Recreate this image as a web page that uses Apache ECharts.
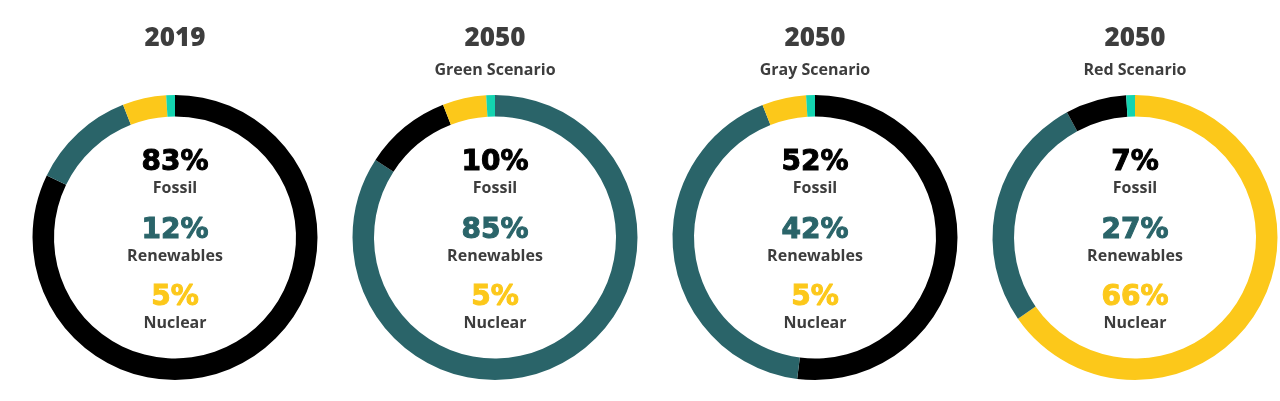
<!DOCTYPE html>
<html>
<head>
<meta charset="utf-8">
<script src="https://cdn.jsdelivr.net/npm/echarts@6/dist/echarts.min.js"></script>
<style>
html,body{margin:0;padding:0;background:#fff;}
#c{width:1280px;height:401px;}
</style>
</head>
<body>
<div id="c"></div>
<script>
const years = ['2019', '2050', '2050', '2050'];
const scenarios = ['', 'Green Scenario', 'Gray Scenario', 'Red Scenario'];
const categories = ['Fossil', 'Renewables', 'Nuclear'];
const fossil = [83, 10, 52, 7];
const renewables = [12, 85, 42, 27];
const nuclear = [5, 5, 5, 66];
const markerValue = 1; // small turquoise marker slice at 12 o'clock

const colors = { Fossil: '#000000', Renewables: '#2a6469', Nuclear: '#fcc81a', marker: '#14d4b0' };
const centersX = [175, 495, 815, 1135];
const centerY = 237.5;
const FONT = '"Open Sans", Lato, sans-serif';
const NUMFONT = '"DejaVu Sans", "Open Sans", sans-serif';

const chart = echarts.init(document.getElementById('c'), null, { renderer: 'canvas' });

const series = [];
const graphics = [];

for (let i = 0; i < 4; i++) {
  const vals = [fossil[i], renewables[i], nuclear[i]];
  const data = categories.map((c, k) => ({ name: c, value: vals[k], itemStyle: { color: colors[c] } }));
  data.sort((a, b) => b.value - a.value);
  data.push({ name: 'marker', value: markerValue, itemStyle: { color: colors.marker } });
  series.push({
    type: 'pie',
    center: [centersX[i], centerY],
    radius: [121, 142.5],
    startAngle: 90,
    clockwise: true,
    silent: true,
    animation: false,
    label: { show: false },
    labelLine: { show: false },
    itemStyle: { borderWidth: 0 },
    data: data
  });

  graphics.push({
    type: 'text', x: centersX[i], y: 39,
    style: { text: years[i], fill: '#3d3d3d', font: '800 26px ' + FONT, textAlign: 'center', textVerticalAlign: 'middle' },
    silent: true
  });
  if (scenarios[i]) {
    graphics.push({
      type: 'text', x: centersX[i], y: 70,
      style: { text: scenarios[i], fill: '#3d3d3d', font: 'bold 16px ' + FONT, textAlign: 'center', textVerticalAlign: 'middle' },
      silent: true
    });
  }

  const pctY = [163, 231, 298];
  const lblY = [188, 256, 323];
  categories.forEach((c, k) => {
    graphics.push({
      type: 'text', x: centersX[i], y: pctY[k],
      style: { text: vals[k] + '%', fill: colors[c], stroke: colors[c], lineWidth: 1, font: 'bold 28px ' + NUMFONT, textAlign: 'center', textVerticalAlign: 'middle' },
      silent: true
    });
    graphics.push({
      type: 'text', x: centersX[i], y: lblY[k],
      style: { text: c, fill: '#3d3d3d', font: 'bold 16px ' + FONT, textAlign: 'center', textVerticalAlign: 'middle' },
      silent: true
    });
  });
}

chart.setOption({
  animation: false,
  backgroundColor: '#ffffff',
  series: series,
  graphic: graphics
});
</script>
</body>
</html>
